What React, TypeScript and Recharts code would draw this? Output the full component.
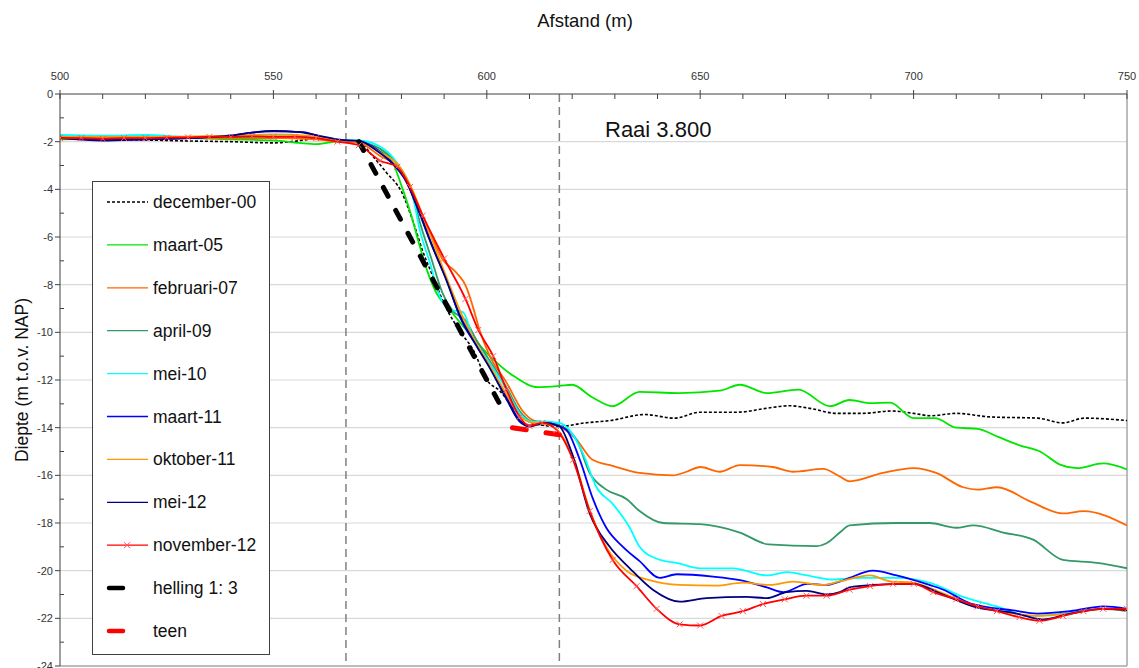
import React from 'react';
import { LineChart, Line, XAxis, YAxis, CartesianGrid, ReferenceLine, Legend, Customized } from 'recharts';

type P = [number, number];

const xTicks = [500, 510, 520, 530, 540, 550, 560, 570, 580, 590, 600, 610, 620, 630, 640, 650, 660, 670, 680, 690, 700, 710, 720, 730, 740, 750];
const yTicks = [-24, -23, -22, -21, -20, -19, -18, -17, -16, -15, -14, -13, -12, -11, -10, -9, -8, -7, -6, -5, -4, -3, -2, -1, 0];
const gridValues = [-22, -20, -18, -16, -14, -12, -10, -8, -6, -4, -2];
const sectionLines = [567, 617];

const december00: P[] = [[500,-1.85],[510,-1.9],[520,-1.93],[530,-1.97],[540,-2.0],[550,-2.05],[555,-1.98],[560,-1.88],[565,-1.93],[570,-2.0],[573,-2.55],[576.5,-3.3],[580,-4.1],[583,-5.5],[585,-6.6],[587.5,-7.7],[590,-8.8],[593.5,-9.9],[597,-10.8],[600,-12.0],[603,-12.45],[605.5,-13.0],[609.5,-13.7],[613,-13.9],[617,-13.95],[623,-13.8],[629,-13.7],[637,-13.45],[644,-13.6],[650,-13.35],[659,-13.35],[665,-13.2],[671,-13.08],[676,-13.2],[682,-13.4],[688,-13.4],[695,-13.3],[700,-13.4],[704,-13.5],[710,-13.4],[718,-13.55],[729,-13.6],[735,-13.8],[740,-13.6],[750,-13.7]];

const maart05: P[] = [[500,-1.9],[510,-1.88],[520,-1.85],[530,-1.85],[540,-1.9],[550,-1.95],[556,-2.05],[560,-2.1],[565,-2.0],[570,-2.0],[575,-2.4],[578,-2.9],[580.3,-4.0],[582.4,-5.15],[584,-6.2],[586,-7.4],[588.2,-8.35],[591.3,-9.05],[595.2,-9.9],[600.7,-11.0],[606,-11.8],[612,-12.3],[617,-12.25],[620,-12.2],[624.5,-12.7],[629.5,-13.1],[635.8,-12.5],[645,-12.55],[654.6,-12.45],[659.3,-12.2],[665.6,-12.55],[673,-12.4],[680.4,-13.1],[685,-12.84],[690,-12.97],[694.5,-12.95],[700,-13.6],[705,-13.6],[710,-14.0],[715,-14.05],[720,-14.4],[725,-14.75],[729.6,-15.0],[734.3,-15.55],[738.3,-15.7],[744.4,-15.5],[750,-15.75]];

const februari07: P[] = [[500,-1.85],[520,-1.85],[540,-1.85],[550,-1.85],[560,-1.9],[565,-2.0],[570,-2.05],[575,-2.6],[579,-3.05],[582,-4.0],[584.3,-5.0],[586.7,-5.85],[589.7,-6.95],[592.9,-7.5],[595.2,-8.1],[596.7,-8.9],[598.3,-9.9],[600.7,-11.0],[604.6,-12.1],[608.4,-13.3],[611,-13.7],[614,-13.8],[617,-13.95],[621,-14.5],[624.8,-15.35],[629.5,-15.6],[635.8,-15.9],[643.6,-16.0],[646.8,-15.85],[650,-15.65],[654.6,-15.85],[659.3,-15.57],[667,-15.65],[671.8,-15.85],[678.8,-15.73],[682.7,-16.05],[685,-16.25],[692.8,-15.9],[700,-15.7],[705.3,-15.9],[711.6,-16.5],[715,-16.6],[719.6,-16.5],[727.4,-17.1],[735,-17.6],[739.8,-17.5],[750,-18.1]];

const april09: P[] = [[500,-1.8],[520,-1.8],[540,-1.8],[555,-1.75],[563,-1.9],[570,-2.0],[575,-2.3],[579,-2.95],[582.5,-4.2],[584.5,-5.5],[587,-6.9],[589.5,-8.3],[592,-9.1],[595,-9.5],[597.5,-10.3],[600.7,-11.2],[604.6,-12.3],[607.7,-13.3],[610.8,-13.75],[614,-13.75],[617,-13.9],[621,-14.5],[624.1,-15.9],[628,-16.6],[632.8,-17.0],[635.8,-17.5],[641.3,-18.0],[650,-18.05],[659.3,-18.4],[666,-18.9],[677.3,-18.97],[679.6,-18.85],[682.7,-18.4],[685,-18.1],[696,-18.0],[703.7,-18.0],[710,-18.2],[714,-18.1],[721,-18.4],[728,-18.7],[735,-19.55],[743,-19.67],[750,-19.9]];

const mei10: P[] = [[500,-1.72],[510,-1.75],[520,-1.72],[530,-1.8],[540,-1.75],[550,-1.75],[560,-1.8],[565,-1.95],[570,-1.95],[575,-2.2],[579,-2.9],[582.7,-4.3],[584.3,-5.7],[586.7,-7.1],[589,-8.5],[591.3,-9.05],[594.4,-9.15],[596.7,-10.2],[600.7,-11.3],[604.6,-12.4],[607.7,-13.4],[610.8,-13.76],[614,-13.76],[617,-13.8],[619.4,-14.1],[622.5,-15.07],[625.7,-16.5],[629.5,-17.2],[633.5,-18.2],[635.8,-19.0],[639.8,-19.5],[645.2,-19.7],[650,-19.9],[657.7,-19.9],[665.6,-20.2],[670.3,-20.06],[675,-20.2],[681,-20.37],[688,-20.3],[696,-20.3],[703.7,-20.5],[711.6,-21.1],[719.5,-21.5],[727,-21.9],[735,-21.8],[744,-21.6],[750,-21.7]];

const maart11: P[] = [[500,-1.8],[510,-1.9],[520,-1.9],[530,-1.85],[540,-1.75],[545,-1.62],[550,-1.57],[557,-1.6],[562,-1.85],[567,-1.95],[570,-1.97],[574,-2.3],[577.2,-2.77],[581.2,-3.7],[584.3,-5.0],[587.3,-6.4],[590.6,-7.8],[593.7,-9.35],[597.7,-10.6],[600.7,-11.45],[604.6,-12.7],[607.7,-13.7],[610,-13.9],[614,-13.8],[616.4,-13.9],[618.7,-14.1],[621.8,-15.35],[624.9,-17.0],[628,-18.2],[631.9,-19.0],[635.8,-19.6],[640.5,-20.3],[644.5,-20.15],[653,-20.25],[659.3,-20.4],[665.6,-20.7],[669.5,-20.9],[675.1,-20.55],[679.6,-20.6],[682.7,-20.46],[685,-20.3],[690.5,-20.0],[696,-20.2],[703.7,-20.6],[707,-20.8],[713.2,-21.37],[723.4,-21.67],[728.9,-21.8],[736.7,-21.7],[744.5,-21.5],[750,-21.6]];

const oktober11: P[] = [[500,-1.8],[520,-1.8],[540,-1.75],[550,-1.7],[558,-1.75],[565,-1.95],[570,-2.0],[575,-2.45],[579.6,-3.05],[582,-3.8],[585,-5.1],[588,-6.5],[591,-7.9],[594,-9.2],[597,-10.3],[600.7,-11.4],[604.6,-12.6],[607.7,-13.5],[610.8,-13.8],[614,-13.85],[617,-14.2],[620.2,-15.2],[624.1,-17.45],[628,-19.0],[632.7,-20.0],[638.1,-20.4],[645.2,-20.6],[653.8,-20.63],[660,-20.5],[666.3,-20.6],[671.7,-20.46],[678.8,-20.6],[682.7,-20.45],[689.8,-20.2],[694.5,-20.45],[699.9,-20.5],[706.2,-20.9],[713.2,-21.4],[723.4,-21.8],[729.6,-21.9],[736.7,-21.8],[744.5,-21.6],[750,-21.7]];

const mei12: P[] = [[500,-1.85],[510,-1.95],[520,-1.9],[530,-1.85],[540,-1.75],[545,-1.62],[550,-1.55],[556,-1.6],[562,-1.8],[567,-1.95],[570,-1.97],[574,-2.35],[577.5,-2.85],[581,-3.6],[584,-4.9],[587,-6.3],[590.5,-7.8],[593.7,-9.3],[597.7,-10.6],[600.7,-11.5],[604.6,-12.8],[607.7,-13.75],[610,-13.95],[613.5,-13.8],[617,-13.95],[620.2,-15.2],[624.1,-17.6],[628.8,-19.0],[633.5,-19.9],[638.9,-20.8],[645.2,-21.3],[651.5,-21.15],[660.8,-21.1],[665.6,-21.15],[670.3,-20.9],[675,-20.85],[679.6,-21.0],[682.7,-20.9],[685,-20.7],[690.5,-20.6],[699.9,-20.55],[706.2,-20.95],[713.9,-21.5],[724.2,-21.8],[730.3,-22.05],[736.7,-21.8],[744.5,-21.6],[750,-21.65]];

const november12: P[] = [[500,-1.85],[505,-1.85],[510,-1.88],[515,-1.85],[520,-1.85],[525,-1.83],[530,-1.82],[535,-1.8],[540,-1.8],[545,-1.78],[550,-1.8],[555,-1.8],[560,-1.85],[565,-2.0],[570,-2.15],[575,-2.8],[579,-3.05],[582,-3.9],[585,-5.1],[590,-6.9],[595,-8.6],[598,-9.9],[601.5,-11.0],[604.6,-12.4],[607.7,-13.55],[610,-13.93],[613,-13.8],[616.4,-14.1],[620.2,-15.35],[624.1,-17.5],[629.5,-19.55],[635.1,-20.65],[639.8,-21.6],[645.2,-22.25],[650,-22.3],[655,-21.9],[660,-21.7],[664.7,-21.4],[669.8,-21.2],[674.9,-21.05],[679.6,-21.05],[685,-20.8],[689.8,-20.65],[695.2,-20.55],[700,-20.55],[704.6,-20.9],[710,-21.2],[715,-21.5],[719.5,-21.7],[724.8,-21.95],[729.5,-22.1],[735,-21.9],[739.8,-21.7],[744.4,-21.6],[750,-21.6]];

const helling: P[] = [[570,-2.0],[604,-13.33]];
const teen: P[] = [[606,-14.0],[617,-14.3]];

const seriesNames = ['december-00','maart-05','februari-07','april-09','mei-10','maart-11','oktober-11','mei-12','november-12','helling 1: 3','teen'];
const seriesData = [december00, maart05, februari07, april09, mei10, maart11, oktober11, mei12, november12, helling, teen];
const seriesColors = ['#000000','#00e600','#ff6600','#339966','#00ffff','#0000ff','#ff9900','#000080','#ff0000','#000000','#ff0000'];
const seriesWidths = [1.6, 1.8, 1.8, 1.8, 1.8, 1.8, 1.8, 1.8, 1.8, 5, 5];
const seriesDash = ['3 2', undefined, undefined, undefined, undefined, undefined, undefined, undefined, undefined, '10 16', '14 20'];
const legendDash = ['3 2', undefined, undefined, undefined, undefined, undefined, undefined, undefined, undefined, '14 22', '14 22'];

const FONT = '"Liberation Sans", Arial, Helvetica, sans-serif';

const toPts = (arr: P[]) => arr.map(([x, y]) => ({ x, y }));

const XTick = (props: any) => {
  const { x, y, payload } = props;
  const v = payload.value;
  const major = v % 50 === 0;
  return (
    <g>
      <line x1={x} x2={x} y1={major ? y - 4 : y} y2={y + 5} stroke="#404040" strokeWidth={1} />
      {major && (
        <text x={x} y={y - 14} textAnchor="middle" fontFamily={FONT} fontSize={11} fill="#333">{v}</text>
      )}
    </g>
  );
};

const YTick = (props: any) => {
  const { x, y, payload } = props;
  const v = payload.value;
  const major = v % 2 === 0;
  return (
    <g>
      <line x1={major ? x - 5 : x} x2={major ? x : x + 4} y1={y} y2={y} stroke="#404040" strokeWidth={1} />
      {major && (
        <text x={x - 7} y={y + 4} textAnchor="end" fontFamily={FONT} fontSize={11} fill="#333">{v}</text>
      )}
    </g>
  );
};

const XMark = (props: any) => {
  const { cx, cy, index } = props;
  if (cx == null || cy == null) return <g key={`m-${index}`} />;
  const s = 3;
  return (
    <path key={`m-${index}`} d={`M${cx - s},${cy - s}L${cx + s},${cy + s}M${cx - s},${cy + s}L${cx + s},${cy - s}`} stroke="#ff5555" strokeWidth={1} fill="none" />
  );
};

const LegendBox = () => (
  <div style={{ width: 178, height: 474, border: '1px solid #404040', background: '#fff', boxSizing: 'border-box' }}>
    <svg width={176} height={472} style={{ display: 'block' }}>
      {seriesNames.map((n, i) => {
        const cy = 20 + i * 42.9;
        const thick = i >= 9;
        return (
          <g key={n}>
            <line x1={thick ? 16 : 14} x2={thick ? 52 : 55} y1={cy} y2={cy} stroke={seriesColors[i]} strokeWidth={thick ? 4.5 : 1.3}
              strokeDasharray={legendDash[i]} strokeLinecap={thick ? 'round' : 'butt'} />
            {i === 8 && (
              <path d={`M${34 - 3},${cy - 3}L${34 + 3},${cy + 3}M${34 - 3},${cy + 3}L${34 + 3},${cy - 3}`} stroke="#ff5555" strokeWidth={1} />
            )}
            <text x={60} y={cy + 6} fontFamily={FONT} fontSize={17.5} fill="#111">{n}</text>
          </g>
        );
      })}
    </svg>
  </div>
);

const Titles = () => (
  <g>
    <text x={585} y={27} textAnchor="middle" fontFamily={FONT} fontSize={18.5} fill="#111">Afstand (m)</text>
    <text x={0} y={0} transform="translate(28,380) rotate(-90)" textAnchor="middle" fontFamily={FONT} fontSize={17.5} fill="#111">Diepte (m t.o.v. NAP)</text>
    <text x={605} y={137} fontFamily={FONT} fontSize={22} fill="#111">Raai 3.800</text>
  </g>
);

export default function App() {
  return (
    <div style={{ position: 'absolute', left: 0, top: 0, width: 1139, height: 668, overflow: 'hidden', background: '#fff' }}>
      <LineChart width={1139} height={668} margin={{ top: 64, right: 12, bottom: 2, left: 0 }}>
        <CartesianGrid horizontal={true} vertical={false} horizontalValues={gridValues} stroke="#d9d9d9" strokeWidth={1.2} />
        <XAxis type="number" dataKey="x" orientation="top" domain={[500, 750]} ticks={xTicks} interval={0}
          height={30} tickSize={0} tickMargin={0} tickLine={false} tick={(p: any) => <XTick {...p} />}
          axisLine={{ stroke: '#404040', strokeWidth: 1 }} allowDataOverflow />
        <YAxis type="number" domain={[-24, 0]} ticks={yTicks} interval={0} width={60} tickSize={0} tickMargin={0}
          tickLine={false} tick={(p: any) => <YTick {...p} />} axisLine={{ stroke: '#404040', strokeWidth: 1 }} allowDataOverflow />
        <ReferenceLine x={750} stroke="#a6a6a6" strokeWidth={1.5} />
        <ReferenceLine y={-24} stroke="#a6a6a6" strokeWidth={1.5} />
        {sectionLines.map((v) => (
          <ReferenceLine key={v} x={v} stroke="#808080" strokeWidth={1.5} strokeDasharray="8 5" />
        ))}
        {seriesData.map((d, i) => (
          <Line key={seriesNames[i]} name={seriesNames[i]} data={toPts(d)} dataKey="y" type={i >= 9 ? 'linear' : 'monotone'}
            stroke={seriesColors[i]} strokeWidth={seriesWidths[i]} strokeDasharray={seriesDash[i]}
            strokeLinecap={i >= 9 ? 'round' : 'butt'}
            dot={i === 8 ? (p: any) => <XMark {...p} /> : false} activeDot={false} isAnimationActive={false} />
        ))}
        <Legend layout="vertical" align="center" verticalAlign="middle" content={() => <LegendBox />}
          wrapperStyle={{ left: 92, top: 181, width: 178, height: 474 }} />
        <Customized component={Titles} />
      </LineChart>
    </div>
  );
}
